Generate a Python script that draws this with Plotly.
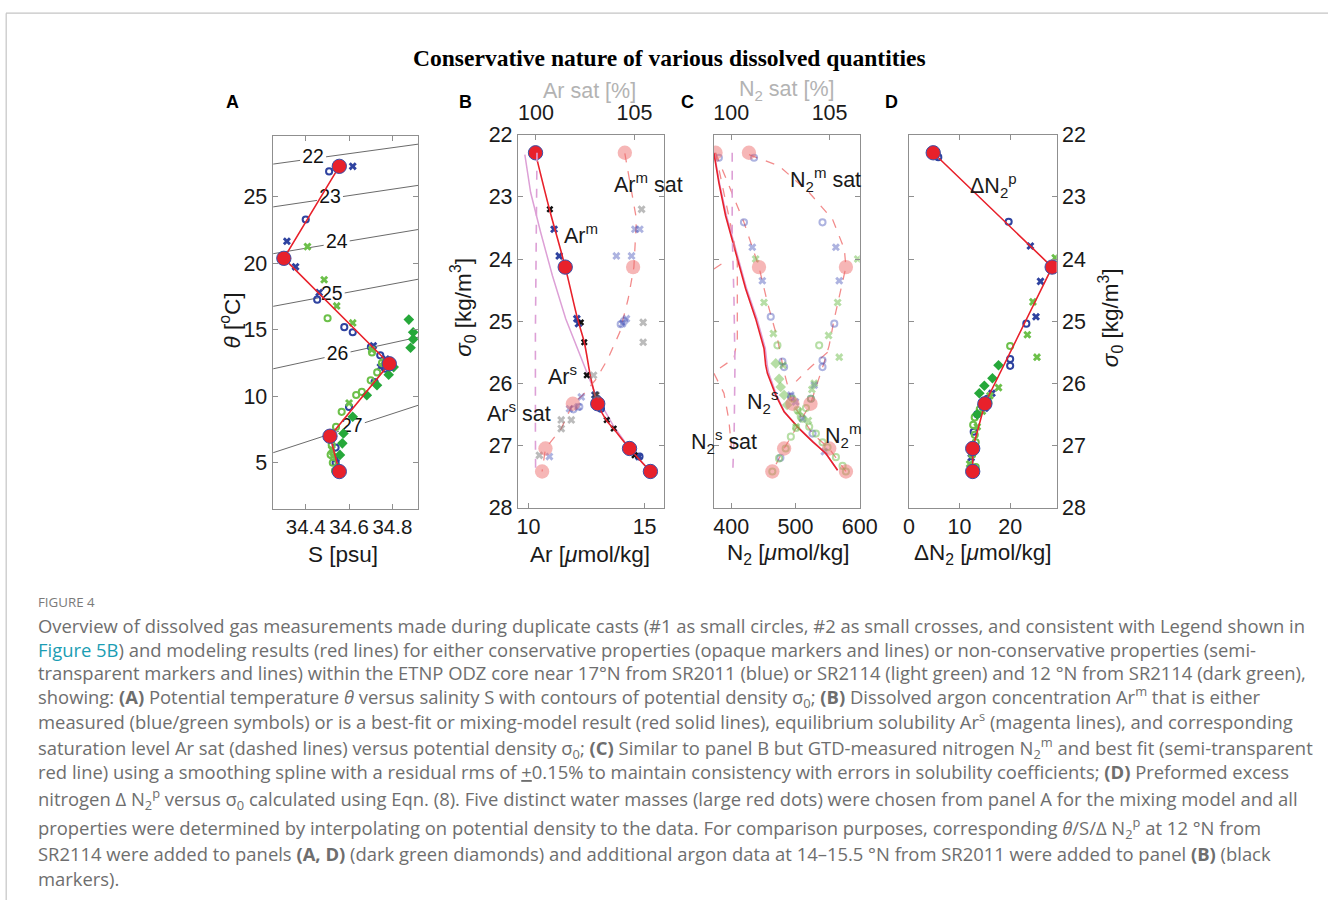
import plotly.graph_objects as go
import numpy as np

# page geometry: the photographed page shows the figure slightly reduced and offset by the
# body margin, so reference pixel positions are mapped through that (scale S, margin M)
S = 0.977
M = 8
FW = int(round(1331 / S - 2 * M))
FH = int(round(908 / S - 2 * M))

# ---------------- data ----------------
sigma_wm = [22.29, 24.13, 26.33, 27.05, 27.42]   # potential density of the 5 water masses

# Panel A : theta vs S
A_wm_S = [34.555, 34.299, 34.786, 34.512, 34.555]
A_wm_T = [27.3, 20.38, 12.45, 7.0, 4.34]
A_blue_circ_S = [34.508, 34.400, 34.453, 34.578, 34.617, 34.701, 34.744, 34.767, 34.718, 34.600, 34.538, 34.538, 34.545]
A_blue_circ_T = [26.92, 23.30, 17.27, 15.20, 14.82, 13.70, 13.08, 12.08, 11.08, 9.20, 6.14, 5.00, 4.40]
A_blue_x_S = [34.617, 34.313, 34.353, 34.462, 34.712, 34.770, 34.745, 34.540, 34.550]
A_blue_x_T = [27.30, 21.66, 19.74, 17.80, 13.80, 12.80, 12.20, 5.30, 4.50]
A_lg_x_S = [34.408, 34.485, 34.543, 34.617, 34.705, 34.760, 34.600, 34.520, 34.525]
A_lg_x_T = [21.26, 18.77, 16.80, 15.52, 13.50, 12.60, 9.50, 6.00, 5.50]
A_lg_circ_S = [34.501, 34.706, 34.752, 34.730, 34.700, 34.659, 34.633, 34.566, 34.540, 34.520, 34.515, 34.525, 34.535]
A_lg_circ_T = [15.87, 13.30, 12.50, 11.80, 11.20, 10.33, 10.10, 8.83, 7.70, 6.34, 5.60, 5.00, 4.40]
A_dg_S = [34.876, 34.896, 34.896, 34.884, 34.806, 34.783, 34.729, 34.682, 34.617, 34.574, 34.569, 34.558, 34.552]
A_dg_T = [15.77, 14.82, 14.30, 13.65, 12.20, 11.62, 10.83, 10.08, 8.46, 7.20, 6.46, 5.59, 4.60]
contour_levels = [22, 23, 24, 25, 26, 27]
contour_S_edges = [34.25, 34.92]
contour_T_left = [27.47, 24.25, 20.73, 16.77, 12.07, 5.76]
contour_T_right = [28.97, 25.87, 22.55, 18.81, 14.45, 9.33]
contour_label_S = [34.434, 34.512, 34.543, 34.520, 34.547, 34.613]

# Panel B : Ar vs sigma
B_red_Ar = [10.30, 10.88, 11.58, 12.11, 12.40, 12.69, 12.98, 13.34, 13.70, 14.35, 15.25]
B_red_sig = [22.30, 23.17, 24.13, 24.96, 25.34, 25.93, 26.33, 26.59, 26.75, 27.05, 27.42]
B_wm_Ar = [10.30, 11.58, 12.98, 14.35, 15.25]
B_black_Ar = [10.92, 12.25, 12.40, 12.51, 12.90, 13.37, 13.67, 14.57]
B_black_sig = [23.20, 25.02, 25.34, 25.87, 26.19, 26.59, 26.73, 27.16]
B_blue_x_Ar = [11.10, 11.32, 12.08, 12.15, 12.86, 13.05, 14.75]
B_blue_x_sig = [23.52, 23.95, 24.96, 25.04, 26.19, 26.38, 27.18]
B_blue_circ_Ar = [12.95, 13.12, 14.78]
B_blue_circ_sig = [26.25, 26.41, 27.18]
B_sol_Ar = [9.84, 10.09, 10.52, 11.03, 11.60, 12.33, 12.90, 13.63, 14.35, 15.25]
B_sol_sig = [22.32, 22.93, 23.57, 24.27, 24.96, 25.66, 26.19, 26.67, 27.05, 27.42]
B_solsat = [100.05, 100.00, 99.97, 99.97, 99.98]
B_solsat_sig = [22.29, 23.57, 25.18, 26.78, 27.42]
B_msat = [104.51, 104.85, 105.10, 104.97, 104.68, 104.25, 103.66, 103.06, 102.38, 101.87, 101.28, 100.48, 100.31]
B_msat_sig = [22.30, 22.93, 23.36, 24.13, 24.64, 25.18, 25.60, 25.93, 26.19, 26.33, 26.73, 27.05, 27.42]
B_wm_sat = [104.51, 104.93, 101.87, 100.48, 100.31]
B_gray_sat = [105.36, 105.44, 105.44, 102.92, 103.06, 101.79, 101.28, 101.28, 100.17]
B_gray_sig = [23.20, 25.02, 25.34, 25.87, 26.19, 26.59, 26.59, 26.73, 27.16]
B_lb_x_sat = [105.02, 105.27, 104.08, 104.85, 104.39, 104.59, 102.30, 102.13, 101.70, 100.68]
B_lb_x_sig = [23.52, 23.52, 23.95, 23.95, 25.04, 24.96, 26.22, 26.38, 26.41, 27.18]
B_lb_circ_sat = [104.30, 104.47, 101.90, 102.20]
B_lb_circ_sig = [25.05, 25.00, 26.42, 26.38]

# Panel C : N2 vs sigma
C_wm_N2 = [375.5, 443.2, 495.3, 552.6, 578.6]
C_wm_sat = [100.90, 105.83, 104.03, 102.69, 102.09]
C_red_N2 = [372.9, 380.7, 391.1, 409.4, 422.4, 438.0, 451.0, 453.6, 456.3, 469.3, 482.3, 505.7, 526.6, 547.4, 565.6]
C_red_sig = [22.29, 22.77, 23.30, 24.00, 24.48, 24.96, 25.44, 25.71, 25.84, 26.19, 26.46, 26.73, 26.94, 27.13, 27.40]
C_sol_N2 = [373.5, 381.5, 392.5, 411.0, 424.0, 440.0, 453.0, 456.0, 458.5, 470.5, 483.0, 506.0, 527.0, 547.5, 565.6]
C_m_N2 = [375.5, 396.4, 419.8, 443.2, 456.3, 471.9, 482.3, 495.3, 526.6, 552.6, 578.6]
C_m_sig = [22.29, 22.82, 23.41, 24.13, 24.70, 25.28, 25.82, 26.33, 26.81, 27.05, 27.42]
C_msat = [100.90, 102.43, 103.96, 105.15, 105.75, 105.83, 105.58, 105.24, 104.98, 104.73, 104.03, 102.69, 102.09]
C_msat_sig = [22.32, 22.50, 22.93, 23.36, 23.84, 24.13, 24.48, 24.96, 25.39, 25.66, 26.33, 27.05, 27.42]
C_extra_sat = [104.90, 104.00, 103.30]
C_extra_sig = [25.50, 25.75, 25.97]
C_dashL1_sat = [99.20, 99.63, 100.05, 100.31, 100.31, 100.31, 100.14, 99.12]
C_dashL1_sig = [22.29, 22.93, 23.57, 24.05, 24.64, 25.28, 25.60, 25.82]
C_dashL2_sat = [99.12, 99.88]
C_dashL2_sig = [24.16, 24.00]
C_dashL3_sat = [99.12, 99.63, 99.88, 100.02]
C_dashL3_sig = [25.84, 26.16, 26.59, 27.07]
C_solsat = [100.05, 100.05, 100.14, 100.19, 100.15, 100.08]
C_solsat_sig = [22.29, 23.57, 24.64, 25.71, 26.78, 27.42]
C1_blue_circ_N2 = [380.7, 419.8, 461.5, 479.7, 482.3, 493.0, 526.6]
C1_blue_circ_sig = [22.37, 23.41, 24.93, 25.65, 25.74, 26.22, 26.81]
C1_blue_x_N2 = [432.8, 448.4, 492.7, 500.0, 545.0]
C1_blue_x_sig = [23.81, 24.35, 26.19, 26.30, 27.10]
C1_lg_x_N2 = [438.0, 451.0, 465.6, 480.7, 505.0, 520.0]
C1_lg_x_sig = [24.00, 24.70, 25.20, 25.71, 26.45, 26.60]
C1_lg_circ_N2 = [471.9, 495.3, 503.1, 508.3, 521.4, 531.8, 542.2, 550.0, 563.0, 573.4, 578.6]
C1_lg_circ_sig = [25.39, 26.25, 26.43, 26.54, 26.70, 26.81, 26.95, 27.03, 27.19, 27.33, 27.42]
C1_dg_N2 = [469.3, 474.5, 477.0, 482.3, 487.0]
C1_dg_sig = [25.68, 25.93, 26.06, 26.19, 26.35]
C2_blue_circ_sat = [101.16, 104.64, 105.24, 104.64, 104.64, 104.05, 102.50]
C2_blue_circ_sig = [22.37, 23.41, 25.04, 25.63, 25.74, 26.25, 27.20]
C2_blue_x_sat = [105.32, 105.49, 104.22, 103.62]
C2_blue_x_sig = [23.81, 24.35, 26.03, 26.57]
C2_lg_x_sat = [106.43, 105.41, 104.95, 105.49, 104.22, 104.10, 103.30]
C2_lg_x_sig = [24.00, 24.70, 25.23, 25.58, 26.00, 26.10, 26.70]
C2_lg_circ_sat = [104.47, 104.05, 103.80, 103.62, 103.30, 103.03, 102.77, 102.43, 102.09]
C2_lg_circ_sig = [25.39, 26.25, 26.40, 26.57, 26.72, 26.86, 27.05, 27.21, 27.42]

# Panel D : delta N2 vs sigma
D_wm_dN = [4.8, 28.3, 15.0, 12.6, 12.6]
D_blue_circ_dN = [5.8, 19.7, 23.2, 20.0, 20.0, 15.5, 13.5, 12.8, 12.5]
D_blue_circ_sig = [22.36, 23.40, 25.04, 25.61, 25.72, 26.25, 26.50, 26.78, 27.10]
D_blue_x_dN = [24.0, 26.0, 25.1, 16.4, 15.0, 12.3]
D_blue_x_sig = [23.79, 24.36, 24.93, 26.16, 26.40, 27.20]
D_lg_x_dN = [28.9, 24.5, 23.4, 25.3, 17.7, 16.0, 14.5, 13.5, 12.0]
D_lg_x_sig = [23.98, 24.69, 25.22, 25.58, 26.07, 26.20, 26.45, 26.70, 27.30]
D_lg_circ_dN = [20.0, 15.7, 14.0, 13.0, 12.7, 13.0, 13.2, 12.5, 13.2]
D_lg_circ_sig = [25.40, 26.31, 26.42, 26.55, 26.67, 26.83, 26.95, 27.15, 27.35]
D_dg_dN = [17.7, 16.5, 14.9, 13.9, 14.5, 13.5]
D_dg_sig = [25.71, 25.92, 26.04, 26.16, 26.35, 26.50]

# ---------------- styles ----------------
RED = "#e8212b"
BLUE = "#2f43a0"
LG = "#6cc04a"
DG = "#26a83a"
PINK_DOT = "rgba(238,110,110,0.5)"
PINK_DASH = "rgba(238,100,100,0.75)"
MAG = "#dda0d6"
BLUE_T = "rgba(60,75,180,0.42)"
LG_T = "rgba(110,190,75,0.5)"
GRAY_T = "rgba(120,120,120,0.5)"
FONT = "Liberation Sans"


def fs(v):
    return round(v / S, 2)


fig = go.Figure()


def add(x, y, xa, ya, **kw):
    fig.add_trace(go.Scatter(x=x, y=y, xaxis=xa, yaxis=ya, showlegend=False, hoverinfo="skip", **kw))


def circ(color, size=6):
    return dict(symbol="circle-open", size=fs(size), color=color, line=dict(width=2, color=color))


def cross(color, size=7):
    return dict(symbol="x", size=fs(size), color=color, line=dict(width=0))


def diam(color, size=8):
    return dict(symbol="diamond", size=fs(size), color=color, line=dict(width=0))


bigred = dict(symbol="circle", size=fs(14), color=RED, line=dict(width=1, color="#3a4fa8"))
bigpink = dict(symbol="circle", size=fs(14), color=PINK_DOT, line=dict(width=0))

# ---- Panel A
for lev, tl, tr, ls in zip(contour_levels, contour_T_left, contour_T_right, contour_label_S):
    s0, s1 = contour_S_edges
    gap = 0.06
    seg_s = [s0, ls - gap, None, ls + gap, s1]
    seg_t = [tl, float(np.interp(ls - gap, [s0, s1], [tl, tr])), None,
             float(np.interp(ls + gap, [s0, s1], [tl, tr])), tr]
    add(seg_s, seg_t, "x", "y", mode="lines", line=dict(color="#444", width=0.8))
    add([ls], [float(np.interp(ls, [s0, s1], [tl, tr]))], "x", "y", mode="text", text=[str(lev)],
        textfont=dict(family=FONT, size=fs(19), color="#111"))
add(A_blue_circ_S, A_blue_circ_T, "x", "y", mode="markers", marker=circ(BLUE))
add(A_blue_x_S, A_blue_x_T, "x", "y", mode="markers", marker=cross(BLUE))
add(A_lg_circ_S, A_lg_circ_T, "x", "y", mode="markers", marker=circ(LG))
add(A_lg_x_S, A_lg_x_T, "x", "y", mode="markers", marker=cross(LG))
add(A_dg_S, A_dg_T, "x", "y", mode="markers", marker=diam(DG))
add(A_wm_S, A_wm_T, "x", "y", mode="lines", line=dict(color=RED, width=1.6))
add(A_wm_S, A_wm_T, "x", "y", mode="markers", marker=bigred)

# ---- Panel B
add(B_solsat, B_solsat_sig, "x3", "y2", mode="lines", line=dict(color=MAG, width=1.6, dash="dash"))
add(B_msat, B_msat_sig, "x3", "y2", mode="lines", line=dict(color=PINK_DASH, width=1.3, dash="dash"))
add(B_gray_sat, B_gray_sig, "x3", "y2", mode="markers", marker=cross(GRAY_T))
add(B_lb_x_sat, B_lb_x_sig, "x3", "y2", mode="markers", marker=cross(BLUE_T))
add(B_lb_circ_sat, B_lb_circ_sig, "x3", "y2", mode="markers", marker=circ(BLUE_T))
add(B_wm_sat, sigma_wm, "x3", "y2", mode="markers", marker=bigpink)
add(B_sol_Ar, B_sol_sig, "x2", "y2", mode="lines", line=dict(color=MAG, width=1.5))
add(B_blue_circ_Ar, B_blue_circ_sig, "x2", "y2", mode="markers", marker=circ(BLUE))
add(B_blue_x_Ar, B_blue_x_sig, "x2", "y2", mode="markers", marker=cross(BLUE))
add(B_black_Ar, B_black_sig, "x2", "y2", mode="markers", marker=cross("#111", 6))
add(B_red_Ar, B_red_sig, "x2", "y2", mode="lines", line=dict(color=RED, width=1.6, shape="spline"))
add(B_wm_Ar, sigma_wm, "x2", "y2", mode="markers", marker=bigred)

# ---- Panel C
for xs, ys in [(C_dashL1_sat, C_dashL1_sig), (C_dashL2_sat, C_dashL2_sig), (C_dashL3_sat, C_dashL3_sig),
               (C_msat, C_msat_sig), (C_extra_sat, C_extra_sig)]:
    add(xs, ys, "x5", "y3", mode="lines", line=dict(color=PINK_DASH, width=1.3, dash="dash"))
add(C_solsat, C_solsat_sig, "x5", "y3", mode="lines", line=dict(color=MAG, width=1.6, dash="dash"))
add(C_m_N2, C_m_sig, "x4", "y3", mode="lines", line=dict(color=PINK_DASH, width=1.3, dash="dash"))
add(C2_blue_circ_sat, C2_blue_circ_sig, "x5", "y3", mode="markers", marker=circ(BLUE_T))
add(C2_blue_x_sat, C2_blue_x_sig, "x5", "y3", mode="markers", marker=cross(BLUE_T))
add(C2_lg_x_sat, C2_lg_x_sig, "x5", "y3", mode="markers", marker=cross(LG_T))
add(C2_lg_circ_sat, C2_lg_circ_sig, "x5", "y3", mode="markers", marker=circ(LG_T))
add(C1_blue_circ_N2, C1_blue_circ_sig, "x4", "y3", mode="markers", marker=circ(BLUE_T))
add(C1_blue_x_N2, C1_blue_x_sig, "x4", "y3", mode="markers", marker=cross(BLUE_T))
add(C1_lg_x_N2, C1_lg_x_sig, "x4", "y3", mode="markers", marker=cross(LG_T))
add(C1_lg_circ_N2, C1_lg_circ_sig, "x4", "y3", mode="markers", marker=circ(LG_T))
add(C1_dg_N2, C1_dg_sig, "x4", "y3", mode="markers", marker=diam(LG_T))
add(C_wm_sat, sigma_wm, "x5", "y3", mode="markers", marker=bigpink)
add(C_wm_N2, sigma_wm, "x4", "y3", mode="markers", marker=bigpink)
add(C_sol_N2, C_red_sig, "x4", "y3", mode="lines", line=dict(color=MAG, width=1.5))
add(C_red_N2, C_red_sig, "x4", "y3", mode="lines", line=dict(color=RED, width=1.6))

# ---- Panel D
add(D_blue_circ_dN, D_blue_circ_sig, "x6", "y4", mode="markers", marker=circ(BLUE))
add(D_blue_x_dN, D_blue_x_sig, "x6", "y4", mode="markers", marker=cross(BLUE))
add(D_lg_circ_dN, D_lg_circ_sig, "x6", "y4", mode="markers", marker=circ(LG))
add(D_lg_x_dN, D_lg_x_sig, "x6", "y4", mode="markers", marker=cross(LG))
add(D_dg_dN, D_dg_sig, "x6", "y4", mode="markers", marker=diam(DG))
add(D_wm_dN, sigma_wm, "x6", "y4", mode="lines", line=dict(color=RED, width=1.6))
add(D_wm_dN, sigma_wm, "x6", "y4", mode="markers", marker=bigred)


# ---------------- layout ----------------
def px(x):
    return min(max((x / S - M) / FW, 0.0), 1.0)


def py(y):
    return min(max(1 - (y / S - M) / FH, 0.0), 1.0)


def xd(l, r):
    return [px(l), px(r)]


def yd(t, b):
    return [py(b), py(t)]


base = dict(showgrid=False, zeroline=False, showline=True, linecolor="#8f8f8f", linewidth=1,
            ticks="inside", ticklen=5, tickcolor="#8f8f8f", tickangle=0,
            tickfont=dict(family=FONT, size=fs(21), color="#1a1a1a"))

sig_ticks = [22, 23, 24, 25, 26, 27, 28]
fig.update_layout(
    width=FW, height=FH, margin=dict(l=0, r=0, t=0, b=0), autosize=False,
    paper_bgcolor="white", plot_bgcolor="white",
    xaxis=dict(base, domain=xd(273, 418), range=[34.247, 34.92], tickvals=[34.4, 34.6, 34.8],
               anchor="y", mirror="ticks", tickfont=dict(family=FONT, size=fs(20), color="#1a1a1a")),
    yaxis=dict(base, domain=yd(133, 507), range=[1.56, 29.6], tickvals=[5, 10, 15, 20, 25],
               anchor="x", mirror="ticks"),
    xaxis2=dict(base, domain=xd(517, 662), range=[9.54, 15.82], tickvals=[10, 15], anchor="y2", mirror=True),
    xaxis3=dict(base, range=[99.08, 106.48], tickvals=[100, 105], overlaying="x2", side="top", anchor="y2",
                ticklabelstandoff=5),
    yaxis2=dict(base, domain=yd(132, 506), range=[28, 22], tickvals=sig_ticks, anchor="x2", mirror="ticks"),
    xaxis4=dict(base, domain=xd(712, 857), range=[373, 600], tickvals=[400, 500, 600], anchor="y3", mirror=True),
    xaxis5=dict(base, range=[99.12, 106.53], tickvals=[100, 105], overlaying="x4", side="top", anchor="y3",
                ticklabelstandoff=5),
    yaxis3=dict(base, domain=yd(132, 506), range=[28, 22], tickvals=sig_ticks, anchor="x4", mirror="ticks",
                showticklabels=False),
    xaxis6=dict(base, domain=xd(906, 1053), range=[0, 29.2], tickvals=[0, 10, 20], anchor="y4", mirror="ticks"),
    yaxis4=dict(base, domain=yd(132, 506), range=[28, 22], tickvals=sig_ticks, anchor="x6", side="right",
                mirror="ticks"),
)

ann = []


def note(x, y, text, size=18, color="#1a1a1a", family=FONT, angle=0, xanchor="center", yanchor="middle"):
    ann.append(dict(x=px(x), y=py(y), xref="paper", yref="paper", text=text, showarrow=False,
                    textangle=angle, xanchor=xanchor, yanchor=yanchor,
                    font=dict(family=family, size=fs(size), color=color)))


note(668, 55, "<b>Conservative nature of various dissolved quantities</b>", size=23, color="#000",
     family="Liberation Serif")
for lbl, lx in zip(["A", "B", "C", "D"], [233, 465, 686, 889]):
    note(lx, 99, "<b>%s</b>" % lbl, size=17.5, color="#000")

note(343, 553, "S [psu]", size=22)
note(589, 553, "Ar [<i>μ</i>mol/kg]", size=22)
note(786, 553, "N<sub>2</sub> [<i>μ</i>mol/kg]", size=22)
note(980, 553, "ΔN<sub>2</sub> [<i>μ</i>mol/kg]", size=22)
note(231, 318, "<i>θ</i> [<sup>o</sup>C]", size=22, angle=-90)
note(462, 305, "<i>σ</i><sub>0</sub> [kg/m<sup>3</sup>]", size=22, angle=-90)
note(1106, 315, "<i>σ</i><sub>0</sub> [kg/m<sup>3</sup>]", size=22, angle=-90)
note(588, 88, "Ar sat [%]", size=21, color="#b3b3b3")
note(785, 88, "N<sub>2</sub> sat [%]", size=21, color="#b3b3b3")

note(580, 232, "Ar<sup>m</sup>", size=21)
note(647, 180, "Ar<sup>m</sup> sat", size=21)
note(561, 373, "Ar<sup>s</sup>", size=21)
note(518, 410, "Ar<sup>s</sup> sat", size=21)
note(823, 177, "N<sub>2</sub><sup>m</sup> sat", size=21)
note(760, 400, "N<sub>2</sub><sup>s</sup>", size=21)
note(722, 440, "N<sub>2</sub><sup>s</sup> sat", size=21)
note(840, 434, "N<sub>2</sub><sup>m</sup>", size=21)
note(990, 183, "ΔN<sub>2</sub><sup>p</sup>", size=21)

# caption
CAP = "Open Sans"
CAPC = "#6e6e6e"
note(38, 601, "FIGURE 4", size=13, color="#7a7a7a", family=CAP, xanchor="left")
cap_lines = [
    "Overview of dissolved gas measurements made during duplicate casts (#1 as small circles, #2 as small crosses, and consistent with Legend shown in",
    "<span style='color:#1b9db3'>Figure 5B</span>) and modeling results (red lines) for either conservative properties (opaque markers and lines) or non-conservative properties (semi-",
    "transparent markers and lines) within the ETNP ODZ core near 17°N from SR2011 (blue) or SR2114 (light green) and 12 °N from SR2114 (dark green),",
    "showing: <b>(A)</b> Potential temperature <i>θ</i> versus salinity S with contours of potential density σ<sub>0</sub>; <b>(B)</b> Dissolved argon concentration Ar<sup>m</sup> that is either",
    "measured (blue/green symbols) or is a best-fit or mixing-model result (red solid lines), equilibrium solubility Ar<sup>s</sup> (magenta lines), and corresponding",
    "saturation level Ar sat (dashed lines) versus potential density σ<sub>0</sub>; <b>(C)</b> Similar to panel B but GTD-measured nitrogen N<sub>2</sub><sup>m</sup> and best fit (semi-transparent",
    "red line) using a smoothing spline with a residual rms of <span style='text-decoration:underline'>+</span>0.15% to maintain consistency with errors in solubility coefficients; <b>(D)</b> Preformed excess",
    "nitrogen Δ N<sub>2</sub><sup>p</sup> versus σ<sub>0</sub> calculated using Eqn. (8). Five distinct water masses (large red dots) were chosen from panel A for the mixing model and all",
    "properties were determined by interpolating on potential density to the data. For comparison purposes, corresponding <i>θ</i>/S/Δ N<sub>2</sub><sup>p</sup> at 12 °N from",
    "SR2114 were added to panels <b>(A, D)</b> (dark green diamonds) and additional argon data at 14–15.5 °N from SR2011 were added to panel <b>(B)</b> (black",
    "markers).",
]
cap_y = [624, 648, 672, 696, 720, 747, 771, 798, 828, 853, 878]
for t, yy in zip(cap_lines, cap_y):
    note(38, yy, t, size=18, color=CAPC, family=CAP, xanchor="left")

fig.update_layout(annotations=ann)

# frame lines
fig.add_shape(type="line", xref="paper", yref="paper", x0=px(7), x1=1, y0=py(10), y1=py(10),
              line=dict(color="#c4c4c4", width=1.2))
fig.add_shape(type="line", xref="paper", yref="paper", x0=px(8), x1=px(8), y0=0, y1=py(10),
              line=dict(color="#c4c4c4", width=1.2))

fig.write_html("out.html")
